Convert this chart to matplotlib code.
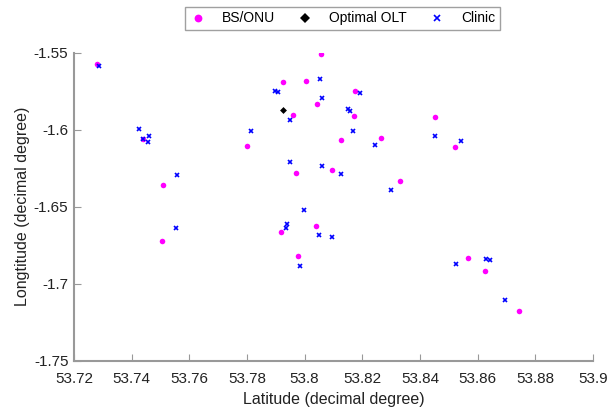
import matplotlib
matplotlib.use("Agg")
import matplotlib.pyplot as plt

# BS/ONU locations (latitude, longitude)
bs_lat = [53.7279, 53.7439, 53.7509, 53.7506, 53.8058, 53.7926, 53.8004, 53.8175,
          53.8042, 53.7959, 53.8172, 53.7801, 53.8266, 53.8127, 53.7971, 53.8096,
          53.8330, 53.7919, 53.8040, 53.7978, 53.8451, 53.8523, 53.8568, 53.8624,
          53.8745]
bs_lon = [-1.5573, -1.6058, -1.6359, -1.6725, -1.5508, -1.5690, -1.5684, -1.5747,
          -1.5835, -1.5907, -1.5909, -1.6106, -1.6052, -1.6069, -1.6279, -1.6262,
          -1.6335, -1.6666, -1.6623, -1.6818, -1.5918, -1.6112, -1.6833, -1.6916,
          -1.7179]

# optimal OLT
olt_lat = [53.7926]
olt_lon = [-1.5874]

# clinics
cl_lat = [53.7286, 53.7425, 53.7439, 53.7461, 53.7456, 53.7558, 53.7553, 53.8053,
          53.7898, 53.7908, 53.8193, 53.8061, 53.7949, 53.8151, 53.8157, 53.7815,
          53.8167, 53.8245, 53.7950, 53.8061, 53.8126, 53.8300, 53.7999, 53.7938,
          53.7935, 53.8049, 53.8094, 53.7985, 53.8451, 53.8543, 53.8525, 53.8628,
          53.8642, 53.8696]
cl_lon = [-1.5586, -1.5993, -1.6058, -1.6043, -1.6078, -1.6292, -1.6638, -1.5671,
          -1.5749, -1.5757, -1.5764, -1.5792, -1.5939, -1.5866, -1.5878, -1.6006,
          -1.6008, -1.6101, -1.6208, -1.6234, -1.6288, -1.6392, -1.6521, -1.6612,
          -1.6638, -1.6682, -1.6697, -1.6881, -1.6041, -1.6073, -1.6870, -1.6840,
          -1.6848, -1.7104]

plt.rcParams['font.family'] = ['Liberation Sans', 'DejaVu Sans']

fig = plt.figure(figsize=(6.13, 4.11), dpi=100)
ax = fig.add_axes([0.1207, 0.1217, 0.8466, 0.7503])

ax.plot(bs_lat, bs_lon, 'o', color='#ff00ff', markersize=4, markeredgewidth=0,
        label='BS/ONU')
ax.plot(olt_lat, olt_lon, 'D', color='black', markersize=3.5, markeredgewidth=0,
        label='Optimal OLT')
ax.plot(cl_lat, cl_lon, 'x', color='#0000ff', markersize=3.5, markeredgewidth=1.2,
        label='Clinic')

ax.set_xlim(53.72, 53.9)
ax.set_ylim(-1.75, -1.55)
ax.set_xticks([53.72, 53.74, 53.76, 53.78, 53.8, 53.82, 53.84, 53.86, 53.88, 53.9])
ax.set_xticklabels(['53.72', '53.74', '53.76', '53.78', '53.8', '53.82', '53.84',
                    '53.86', '53.88', '53.9'])
ax.set_yticks([-1.75, -1.7, -1.65, -1.6, -1.55])
ax.set_yticklabels(['-1.75', '-1.7', '-1.65', '-1.6', '-1.55'])

ax.spines['top'].set_visible(False)
ax.spines['right'].set_visible(False)
for s in ['left', 'bottom']:
    ax.spines[s].set_color('#999999')
    ax.spines[s].set_linewidth(1.5)
ax.tick_params(direction='in', length=5, width=0.8, color='#999999',
               labelsize=11, labelcolor='#222222')
ax.tick_params(axis='x', pad=8)
ax.tick_params(axis='y', pad=4)

ax.set_xlabel('Latitude (decimal degree)', fontsize=11.5, color='#222222', labelpad=4)
ax.set_ylabel('Longtitude (decimal degree)', fontsize=11.5, color='#222222', labelpad=3)

leg = ax.legend(loc='lower center', bbox_to_anchor=(0.517, 1.05), ncol=3,
                fontsize=10, frameon=True, fancybox=False, borderpad=0.35,
                handletextpad=1.1, columnspacing=1.6, handlelength=1.2,
                markerscale=1.4)
leg.get_frame().set_edgecolor('#888888')
leg.get_frame().set_linewidth(1.0)

fig.savefig('out.png', dpi=100)
